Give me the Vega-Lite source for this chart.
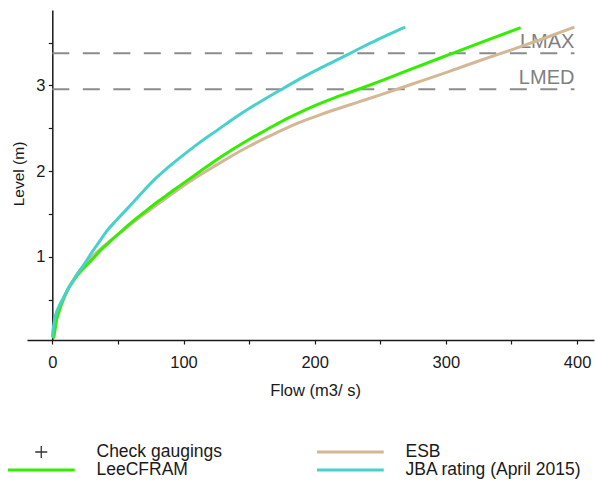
{
  "$schema": "https://vega.github.io/schema/vega-lite/v6.json",
  "width": 567,
  "height": 330,
  "autosize": {"type": "none"},
  "padding": {"left": 27, "top": 10, "right": 1, "bottom": 142},
  "background": "white",
  "config": {"font": "Liberation Sans", "view": {"stroke": null}},
  "datasets": {
    "levels": [
      {"label": "LMAX", "level": 3.375},
      {"label": "LMED", "level": 2.955}
    ],
    "curves": [
      {"series": "ESB", "flow": 0.8, "level": 0.05},
      {"series": "ESB", "flow": 1.5, "level": 0.1},
      {"series": "ESB", "flow": 3, "level": 0.25},
      {"series": "ESB", "flow": 5, "level": 0.36},
      {"series": "ESB", "flow": 7, "level": 0.45},
      {"series": "ESB", "flow": 10, "level": 0.56},
      {"series": "ESB", "flow": 13, "level": 0.655},
      {"series": "ESB", "flow": 17, "level": 0.755},
      {"series": "ESB", "flow": 21, "level": 0.845},
      {"series": "ESB", "flow": 26, "level": 0.93},
      {"series": "ESB", "flow": 31, "level": 1.01},
      {"series": "ESB", "flow": 37, "level": 1.095},
      {"series": "ESB", "flow": 44, "level": 1.185},
      {"series": "ESB", "flow": 52, "level": 1.285},
      {"series": "ESB", "flow": 61, "level": 1.395},
      {"series": "ESB", "flow": 70, "level": 1.5},
      {"series": "ESB", "flow": 80, "level": 1.61},
      {"series": "ESB", "flow": 90, "level": 1.72},
      {"series": "ESB", "flow": 100, "level": 1.83},
      {"series": "ESB", "flow": 112, "level": 1.95},
      {"series": "ESB", "flow": 125, "level": 2.07},
      {"series": "ESB", "flow": 137, "level": 2.18},
      {"series": "ESB", "flow": 150, "level": 2.29},
      {"series": "ESB", "flow": 163, "level": 2.39},
      {"series": "ESB", "flow": 176, "level": 2.485},
      {"series": "ESB", "flow": 188, "level": 2.565},
      {"series": "ESB", "flow": 201, "level": 2.64},
      {"series": "ESB", "flow": 214, "level": 2.71},
      {"series": "ESB", "flow": 227, "level": 2.775},
      {"series": "ESB", "flow": 238, "level": 2.83},
      {"series": "ESB", "flow": 250, "level": 2.89},
      {"series": "ESB", "flow": 275, "level": 3.02},
      {"series": "ESB", "flow": 300, "level": 3.15},
      {"series": "ESB", "flow": 325, "level": 3.285},
      {"series": "ESB", "flow": 350, "level": 3.415},
      {"series": "ESB", "flow": 375, "level": 3.55},
      {"series": "ESB", "flow": 398, "level": 3.68},
      {"series": "LeeCFRAM", "flow": 0.8, "level": 0.05},
      {"series": "LeeCFRAM", "flow": 1.5, "level": 0.1},
      {"series": "LeeCFRAM", "flow": 3, "level": 0.25},
      {"series": "LeeCFRAM", "flow": 5, "level": 0.36},
      {"series": "LeeCFRAM", "flow": 7, "level": 0.45},
      {"series": "LeeCFRAM", "flow": 10, "level": 0.56},
      {"series": "LeeCFRAM", "flow": 13, "level": 0.65},
      {"series": "LeeCFRAM", "flow": 17, "level": 0.74},
      {"series": "LeeCFRAM", "flow": 21, "level": 0.82},
      {"series": "LeeCFRAM", "flow": 26, "level": 0.9},
      {"series": "LeeCFRAM", "flow": 31, "level": 0.98},
      {"series": "LeeCFRAM", "flow": 37, "level": 1.08},
      {"series": "LeeCFRAM", "flow": 44, "level": 1.18},
      {"series": "LeeCFRAM", "flow": 52, "level": 1.29},
      {"series": "LeeCFRAM", "flow": 61, "level": 1.41},
      {"series": "LeeCFRAM", "flow": 70, "level": 1.52},
      {"series": "LeeCFRAM", "flow": 80, "level": 1.64},
      {"series": "LeeCFRAM", "flow": 90, "level": 1.75},
      {"series": "LeeCFRAM", "flow": 100, "level": 1.86},
      {"series": "LeeCFRAM", "flow": 112, "level": 1.99},
      {"series": "LeeCFRAM", "flow": 125, "level": 2.13},
      {"series": "LeeCFRAM", "flow": 137, "level": 2.25},
      {"series": "LeeCFRAM", "flow": 150, "level": 2.37},
      {"series": "LeeCFRAM", "flow": 163, "level": 2.48},
      {"series": "LeeCFRAM", "flow": 176, "level": 2.59},
      {"series": "LeeCFRAM", "flow": 188, "level": 2.68},
      {"series": "LeeCFRAM", "flow": 201, "level": 2.77},
      {"series": "LeeCFRAM", "flow": 214, "level": 2.85},
      {"series": "LeeCFRAM", "flow": 227, "level": 2.92},
      {"series": "LeeCFRAM", "flow": 236, "level": 2.97},
      {"series": "LeeCFRAM", "flow": 250, "level": 3.05},
      {"series": "LeeCFRAM", "flow": 275, "level": 3.2},
      {"series": "LeeCFRAM", "flow": 305, "level": 3.375},
      {"series": "LeeCFRAM", "flow": 330, "level": 3.52},
      {"series": "LeeCFRAM", "flow": 357, "level": 3.675},
      {"series": "JBA rating (April 2015)", "flow": 0, "level": 0.06},
      {"series": "JBA rating (April 2015)", "flow": 1, "level": 0.2},
      {"series": "JBA rating (April 2015)", "flow": 2.5, "level": 0.32},
      {"series": "JBA rating (April 2015)", "flow": 5, "level": 0.42},
      {"series": "JBA rating (April 2015)", "flow": 8, "level": 0.51},
      {"series": "JBA rating (April 2015)", "flow": 11, "level": 0.6},
      {"series": "JBA rating (April 2015)", "flow": 15, "level": 0.7},
      {"series": "JBA rating (April 2015)", "flow": 20, "level": 0.82},
      {"series": "JBA rating (April 2015)", "flow": 25, "level": 0.93},
      {"series": "JBA rating (April 2015)", "flow": 30, "level": 1.05},
      {"series": "JBA rating (April 2015)", "flow": 36, "level": 1.18},
      {"series": "JBA rating (April 2015)", "flow": 42, "level": 1.31},
      {"series": "JBA rating (April 2015)", "flow": 49, "level": 1.43},
      {"series": "JBA rating (April 2015)", "flow": 57, "level": 1.56},
      {"series": "JBA rating (April 2015)", "flow": 66, "level": 1.71},
      {"series": "JBA rating (April 2015)", "flow": 77, "level": 1.89},
      {"series": "JBA rating (April 2015)", "flow": 88, "level": 2.04},
      {"series": "JBA rating (April 2015)", "flow": 100, "level": 2.19},
      {"series": "JBA rating (April 2015)", "flow": 112, "level": 2.33},
      {"series": "JBA rating (April 2015)", "flow": 125, "level": 2.47},
      {"series": "JBA rating (April 2015)", "flow": 137, "level": 2.6},
      {"series": "JBA rating (April 2015)", "flow": 150, "level": 2.73},
      {"series": "JBA rating (April 2015)", "flow": 163, "level": 2.85},
      {"series": "JBA rating (April 2015)", "flow": 176, "level": 2.965},
      {"series": "JBA rating (April 2015)", "flow": 188, "level": 3.07},
      {"series": "JBA rating (April 2015)", "flow": 201, "level": 3.175},
      {"series": "JBA rating (April 2015)", "flow": 214, "level": 3.275},
      {"series": "JBA rating (April 2015)", "flow": 227, "level": 3.375},
      {"series": "JBA rating (April 2015)", "flow": 238, "level": 3.46},
      {"series": "JBA rating (April 2015)", "flow": 250, "level": 3.55},
      {"series": "JBA rating (April 2015)", "flow": 260, "level": 3.62},
      {"series": "JBA rating (April 2015)", "flow": 269, "level": 3.68}
    ]
  },
  "encoding": {
    "y": {
      "field": "level",
      "type": "quantitative",
      "scale": {"domain": [0.03, 3.88], "nice": false, "zero": false},
      "axis": {
        "title": "Level (m)",
        "values": [0.5, 1, 1.5, 2, 2.5, 3, 3.5],
        "labelExpr": "datum.value % 1 === 0 ? format(datum.value, 'd') : ''",
        "grid": false,
        "offset": -25.3,
        "domainColor": "#1a1a1a",
        "domainWidth": 1.5,
        "tickColor": "#1a1a1a",
        "tickWidth": 1.2,
        "tickSize": 4,
        "labelPadding": 3.3,
        "labelFontSize": 16.5,
        "labelColor": "#1a1a1a",
        "labelFlush": false,
        "labelOverlap": false,
        "titleFontSize": 15.5,
        "titleFontWeight": "normal",
        "titleColor": "#1a1a1a",
        "titleAngle": 270,
        "titleBaseline": "alphabetic",
        "titleAlign": "center",
        "titleX": -29,
        "titleY": 163.5,
        "encode": {"ticks": {"update": {"x": {"value": 5}}}}
      }
    }
  },
  "layer": [
    {
      "data": {"name": "levels"},
      "mark": {"type": "rule", "stroke": "#8c8c8c", "strokeWidth": 2, "strokeDash": [17, 13.5]},
      "encoding": {
        "x": {"datum": 0, "type": "quantitative", "scale": {"domain": [-19.3, 412.9], "nice": false, "zero": false}},
        "x2": {"datum": 398}
      }
    },
    {
      "data": {"name": "levels"},
      "mark": {"type": "text", "align": "right", "baseline": "alphabetic", "dy": -5, "fontSize": 20, "color": "#808080"},
      "encoding": {
        "x": {"datum": 398, "type": "quantitative", "scale": {"domain": [-19.3, 412.9], "nice": false, "zero": false}},
        "text": {"field": "label"}
      }
    },
    {
      "data": {"name": "curves"},
      "mark": {"type": "line", "strokeWidth": 3, "interpolate": "monotone"},
      "encoding": {
        "x": {
          "field": "flow",
          "type": "quantitative",
          "scale": {"domain": [-19.3, 412.9], "nice": false, "zero": false},
          "axis": {
            "title": "Flow (m3/ s)",
            "values": [0, 50, 100, 150, 200, 250, 300, 350, 400],
            "labelExpr": "datum.value % 100 === 0 ? format(datum.value, 'd') : ''",
            "grid": false,
            "domainColor": "#1a1a1a",
            "domainWidth": 1.5,
            "tickColor": "#1a1a1a",
            "tickWidth": 1.2,
            "tickSize": 4,
            "labelPadding": 10,
            "labelFontSize": 16.5,
            "labelColor": "#1a1a1a",
            "labelFlush": false,
            "labelOverlap": false,
            "titleFontSize": 16.5,
            "titleFontWeight": "normal",
            "titleColor": "#1a1a1a",
            "titleBaseline": "alphabetic",
            "titleAlign": "center",
            "titleX": 288,
            "titleY": 55,
            "encode": {"ticks": {"update": {"y": {"value": -4}}}}
          }
        },
        "color": {
          "field": "series",
          "type": "nominal",
          "scale": {
            "domain": ["Check gaugings", "LeeCFRAM", "ESB", "JBA rating (April 2015)"],
            "range": ["#333333", "#33ee00", "#d4b896", "#48d1cc"]
          },
          "legend": {
            "orient": "none",
            "legendX": -19,
            "legendY": 433,
            "columns": 2,
            "title": null,
            "padding": 0,
            "symbolType": "stroke",
            "symbolSize": 4489,
            "symbolStrokeWidth": 3,
            "symbolOffset": 24.5,
            "clipHeight": 18,
            "rowPadding": 0,
            "columnPadding": 95,
            "labelOffset": 46.5,
            "labelFontSize": 17.5,
            "labelColor": "#1a1a1a",
            "labelLimit": 400,
            "encode": {
              "symbols": {
                "update": {
                  "shape": {"signal": "datum.value === 'Check gaugings' ? 'M-0.18,0L0.18,0M0,-0.18L0,0.18' : 'stroke'"},
                  "strokeWidth": {"signal": "datum.value === 'Check gaugings' ? 1.3 : 3"}
                }
              }
            }
          }
        }
      }
    }
  ]
}
